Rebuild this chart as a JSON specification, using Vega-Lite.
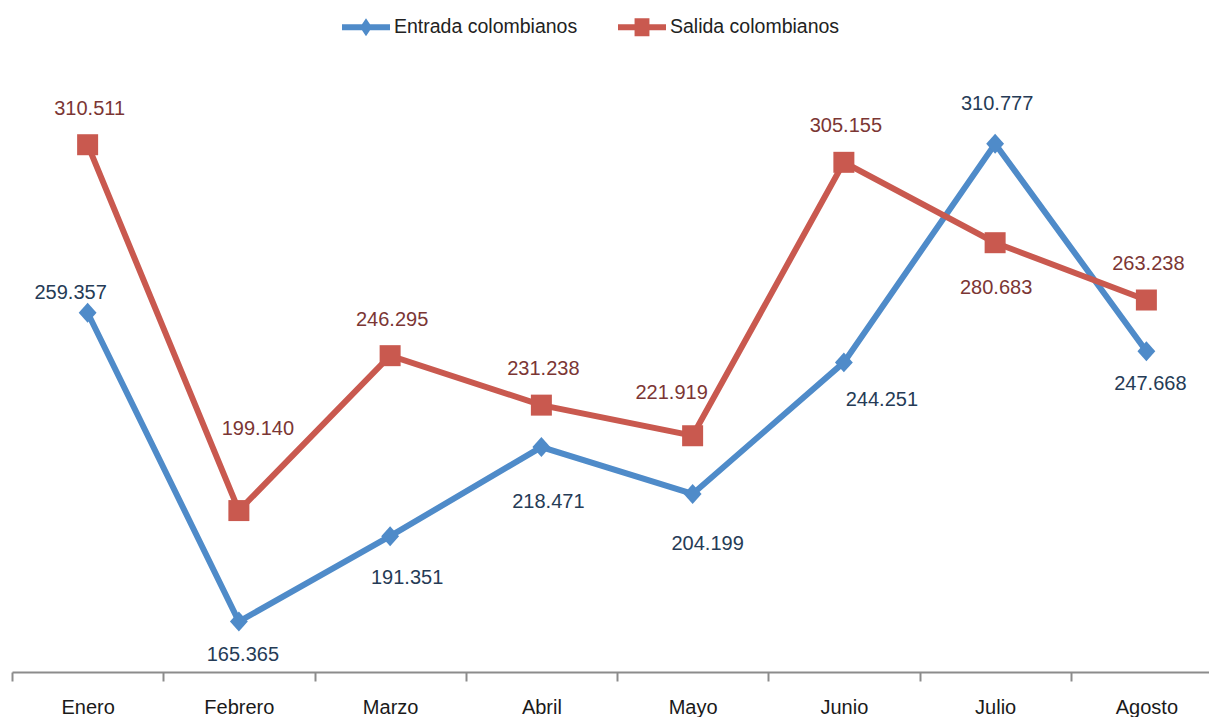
{
  "$schema": "https://vega.github.io/schema/vega-lite/v6.json",
  "autosize": {"type": "none"},
  "width": 1197,
  "height": 657,
  "padding": {"left": 12, "top": 15, "right": 0, "bottom": 45},
  "background": "white",
  "config": {
    "view": {"stroke": null},
    "font": "Liberation Sans",
    "locale": {"number": {"decimal": ",", "thousands": ".", "grouping": [3], "currency": ["$", ""]}}
  },
  "data": {
    "values": [
      {"mes": "Enero", "serie": "Entrada colombianos", "valor": 259357},
      {"mes": "Febrero", "serie": "Entrada colombianos", "valor": 165365},
      {"mes": "Marzo", "serie": "Entrada colombianos", "valor": 191351},
      {"mes": "Abril", "serie": "Entrada colombianos", "valor": 218471},
      {"mes": "Mayo", "serie": "Entrada colombianos", "valor": 204199},
      {"mes": "Junio", "serie": "Entrada colombianos", "valor": 244251},
      {"mes": "Julio", "serie": "Entrada colombianos", "valor": 310777},
      {"mes": "Agosto", "serie": "Entrada colombianos", "valor": 247668},
      {"mes": "Enero", "serie": "Salida colombianos", "valor": 310511},
      {"mes": "Febrero", "serie": "Salida colombianos", "valor": 199140},
      {"mes": "Marzo", "serie": "Salida colombianos", "valor": 246295},
      {"mes": "Abril", "serie": "Salida colombianos", "valor": 231238},
      {"mes": "Mayo", "serie": "Salida colombianos", "valor": 221919},
      {"mes": "Junio", "serie": "Salida colombianos", "valor": 305155},
      {"mes": "Julio", "serie": "Salida colombianos", "valor": 280683},
      {"mes": "Agosto", "serie": "Salida colombianos", "valor": 263238}
    ]
  },
  "encoding": {
    "x": {
      "field": "mes", "type": "nominal",
      "sort": ["Enero", "Febrero", "Marzo", "Abril", "Mayo", "Junio", "Julio", "Agosto"],
      "scale": {"type": "band", "domain": ["Enero", "Febrero", "Marzo", "Abril", "Mayo", "Junio", "Julio", "Agosto"], "range": [0, 1210], "paddingInner": 0, "paddingOuter": 0},
      "axis": {
        "title": null, "tickBand": "extent", "labelAngle": 0,
        "domainColor": "#8c8c8c", "domainWidth": 2,
        "tickColor": "#8c8c8c", "tickWidth": 2, "tickSize": 9,
        "labelFont": "Liberation Sans", "labelFontSize": 20, "labelColor": "#1a1a1a",
        "labelPadding": 16
      }
    },
    "y": {
      "field": "valor", "type": "quantitative",
      "scale": {"domain": [150000, 350000], "nice": false, "zero": false},
      "axis": null
    }
  },
  "resolve": {"scale": {"color": "independent", "shape": "independent"}},
  "layer": [
    {
      "mark": {"type": "line", "strokeWidth": 6},
      "encoding": {
        "color": {"field": "serie", "type": "nominal", "scale": {"domain": ["Entrada colombianos", "Salida colombianos"], "range": ["#4f8bc9", "#c9594f"]}, "legend": null}
      }
    },
    {
      "mark": {"type": "point", "filled": true, "opacity": 1, "size": 441},
      "encoding": {
        "color": {"field": "serie", "type": "nominal", "scale": {"domain": ["Entrada colombianos", "Salida colombianos"], "range": ["#4f8bc9", "#c9594f"]}, "legend": null},
        "shape": {"field": "serie", "type": "nominal", "scale": {"domain": ["Entrada colombianos", "Salida colombianos"], "range": ["M0,-0.95L0.85,0L0,0.95L-0.85,0Z", "M-1,-1H1V1H-1Z"]}, "legend": null}
      }
    },
    {
      "transform": [{"filter": "datum.valor < 0"}],
      "mark": {"type": "point", "filled": true, "opacity": 1, "size": 2304},
      "encoding": {
        "color": {"field": "serie", "type": "nominal", "scale": {"domain": ["Entrada colombianos", "Salida colombianos"], "range": ["#4f8bc9", "#c9594f"]},
          "legend": {"title": null, "orient": "none", "legendX": 330, "legendY": -12, "direction": "horizontal", "padding": 0,
            "symbolSize": 2304, "symbolStrokeWidth": 0, "symbolOpacity": 1, "labelOffset": 4, "columnPadding": 40, "labelLimit": 400,
            "labelFont": "Liberation Sans", "labelFontSize": 19.5, "labelColor": "#222222"}},
        "shape": {"field": "serie", "type": "nominal", "scale": {"domain": ["Entrada colombianos", "Salida colombianos"], "range": ["M-1,-0.13H1V0.13H-1Z M0,-0.38L0.25,0L0,0.38L-0.25,0Z", "M-1,-0.13H1V0.13H-1Z M-0.31,-0.38H0.31V0.38H-0.31Z"]},
          "legend": {"title": null, "orient": "none", "legendX": 330, "legendY": -12, "direction": "horizontal", "padding": 0,
            "symbolSize": 2304, "symbolStrokeWidth": 0, "symbolOpacity": 1, "labelOffset": 4, "columnPadding": 40, "labelLimit": 400,
            "labelFont": "Liberation Sans", "labelFontSize": 19.5, "labelColor": "#222222"}}
      }
    },
    {
      "transform": [{"filter": "datum.serie === 'Salida colombianos' && indexof(['Enero','Marzo','Abril','Junio','Agosto'], datum.mes) >= 0"}],
      "mark": {"type": "text", "dx": 2, "dy": -36, "fontSize": 20, "font": "Liberation Sans", "color": "#7b3634", "baseline": "middle"},
      "encoding": {"text": {"field": "valor", "type": "quantitative", "format": ",.0f"}}
    },
    {
      "transform": [{"filter": "datum.serie === 'Salida colombianos' && datum.mes === 'Febrero'"}],
      "mark": {"type": "text", "dx": 19, "dy": -82, "fontSize": 20, "font": "Liberation Sans", "color": "#7b3634", "baseline": "middle"},
      "encoding": {"text": {"field": "valor", "type": "quantitative", "format": ",.0f"}}
    },
    {
      "transform": [{"filter": "datum.serie === 'Salida colombianos' && datum.mes === 'Mayo'"}],
      "mark": {"type": "text", "dx": -21, "dy": -43, "fontSize": 20, "font": "Liberation Sans", "color": "#7b3634", "baseline": "middle"},
      "encoding": {"text": {"field": "valor", "type": "quantitative", "format": ",.0f"}}
    },
    {
      "transform": [{"filter": "datum.serie === 'Salida colombianos' && datum.mes === 'Julio'"}],
      "mark": {"type": "text", "dx": 1, "dy": 45, "fontSize": 20, "font": "Liberation Sans", "color": "#7b3634", "baseline": "middle"},
      "encoding": {"text": {"field": "valor", "type": "quantitative", "format": ",.0f"}}
    },
    {
      "transform": [{"filter": "datum.serie === 'Entrada colombianos' && datum.mes === 'Enero'"}],
      "mark": {"type": "text", "dx": -17, "dy": -20, "fontSize": 20, "font": "Liberation Sans", "color": "#253b56", "baseline": "middle"},
      "encoding": {"text": {"field": "valor", "type": "quantitative", "format": ",.0f"}}
    },
    {
      "transform": [{"filter": "datum.serie === 'Entrada colombianos' && (datum.mes === 'Febrero' || datum.mes === 'Agosto')"}],
      "mark": {"type": "text", "dx": 4, "dy": 33, "fontSize": 20, "font": "Liberation Sans", "color": "#253b56", "baseline": "middle"},
      "encoding": {"text": {"field": "valor", "type": "quantitative", "format": ",.0f"}}
    },
    {
      "transform": [{"filter": "datum.serie === 'Entrada colombianos' && datum.mes === 'Marzo'"}],
      "mark": {"type": "text", "dx": 17, "dy": 42, "fontSize": 20, "font": "Liberation Sans", "color": "#253b56", "baseline": "middle"},
      "encoding": {"text": {"field": "valor", "type": "quantitative", "format": ",.0f"}}
    },
    {
      "transform": [{"filter": "datum.serie === 'Entrada colombianos' && datum.mes === 'Abril'"}],
      "mark": {"type": "text", "dx": 7, "dy": 55, "fontSize": 20, "font": "Liberation Sans", "color": "#253b56", "baseline": "middle"},
      "encoding": {"text": {"field": "valor", "type": "quantitative", "format": ",.0f"}}
    },
    {
      "transform": [{"filter": "datum.serie === 'Entrada colombianos' && datum.mes === 'Mayo'"}],
      "mark": {"type": "text", "dx": 15, "dy": 50, "fontSize": 20, "font": "Liberation Sans", "color": "#253b56", "baseline": "middle"},
      "encoding": {"text": {"field": "valor", "type": "quantitative", "format": ",.0f"}}
    },
    {
      "transform": [{"filter": "datum.serie === 'Entrada colombianos' && datum.mes === 'Junio'"}],
      "mark": {"type": "text", "dx": 38, "dy": 38, "fontSize": 20, "font": "Liberation Sans", "color": "#253b56", "baseline": "middle"},
      "encoding": {"text": {"field": "valor", "type": "quantitative", "format": ",.0f"}}
    },
    {
      "transform": [{"filter": "datum.serie === 'Entrada colombianos' && datum.mes === 'Julio'"}],
      "mark": {"type": "text", "dx": 2, "dy": -40, "fontSize": 20, "font": "Liberation Sans", "color": "#253b56", "baseline": "middle"},
      "encoding": {"text": {"field": "valor", "type": "quantitative", "format": ",.0f"}}
    }
  ]
}
